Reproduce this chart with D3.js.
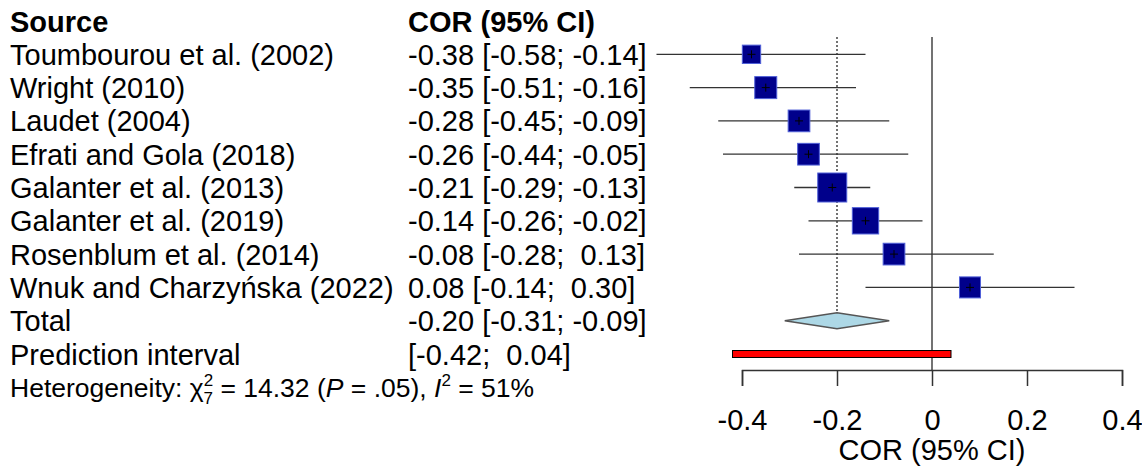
<!DOCTYPE html>
<html>
<head>
<meta charset="utf-8" />
<script src="https://cdn.jsdelivr.net/npm/d3@7"></script>
<style>
	body { margin: 0; background: #fff; }
	text { font-family: "Liberation Sans", Arial, sans-serif; fill: #000; white-space: pre; }
</style>
</head>
<body>
<div id="chart"></div>
<script>

	// study data
	var studies = ["Toumbourou et al. (2002)", "Wright (2010)", "Laudet (2004)", "Efrati and Gola (2018)",
		"Galanter et al. (2013)", "Galanter et al. (2019)", "Rosenblum et al. (2014)", "Wnuk and Charzyńska (2022)"];
	var cor = [-0.38, -0.35, -0.28, -0.26, -0.21, -0.14, -0.08, 0.08];
	var lower = [-0.58, -0.51, -0.45, -0.44, -0.29, -0.26, -0.28, -0.14];
	var upper = [-0.14, -0.16, -0.09, -0.05, -0.13, -0.02, 0.13, 0.30];
	var weights = [8.0, 11.5, 11.2, 11.2, 20.0, 16.5, 11.2, 10.5];

	// pooled estimate and prediction interval
	var total = [-0.20, -0.31, -0.09];
	var prediction = [-0.42, 0.04];
	var xTicks = [-0.4, -0.2, 0, 0.2, 0.4];

	var width = 1142, height = 469;
	var fs = 29;

	var svg = d3.select("#chart").append("svg")
		.attr("width", width)
		.attr("height", height);

	var x = d3.scaleLinear().domain([-0.4, 0.4]).range([742, 1122]);
	// rows : 0 = header, 1..8 studies, 9 total, 10 prediction, 11 heterogeneity
	var y = d3.scaleLinear().domain([0, 11]).range([21, 387.3]);
	var size = d3.scaleSqrt().domain([0, 20]).range([0, 29]);

	function f(v) { return v.toFixed(2); }
	function ci(l, u) { return "[" + f(l) + "; " + (u >= 0 ? " " : "") + f(u) + "]"; }

	var base = 10.5;

	// headers
	svg.append("text").attr("x", 10).attr("y", y(0) + base).style("font-size", fs + "px")
		.style("font-weight", "bold").text("Source");
	svg.append("text").attr("x", 408).attr("y", y(0) + base).style("font-size", fs + "px")
		.style("font-weight", "bold").text("COR (95% CI)");

	var rows = studies.map(function (s, i) {
		return { name: s, cor: cor[i], lo: lower[i], hi: upper[i], w: weights[i], row: i + 1 };
	});

	// left text columns
	svg.selectAll(".lab").data(rows).enter().append("text")
		.attr("x", 10).attr("y", function (d) { return y(d.row) + base; })
		.style("font-size", fs + "px")
		.text(function (d) { return d.name; });

	svg.selectAll(".val").data(rows).enter().append("text")
		.attr("x", 408).attr("y", function (d) { return y(d.row) + base; })
		.style("font-size", fs + "px")
		.text(function (d) { return f(d.cor) + " " + ci(d.lo, d.hi); });

	svg.append("text").attr("x", 10).attr("y", y(9) + base).style("font-size", fs + "px").text("Total");
	svg.append("text").attr("x", 408).attr("y", y(9) + base).style("font-size", fs + "px")
		.text(f(total[0]) + " " + ci(total[1], total[2]));
	svg.append("text").attr("x", 10).attr("y", y(10) + base).style("font-size", fs + "px").text("Prediction interval");
	svg.append("text").attr("x", 408).attr("y", y(10) + base).style("font-size", fs + "px")
		.text(ci(prediction[0], prediction[1]));

	// heterogeneity line
	var het = svg.append("text").attr("x", 10).attr("y", y(11) + 9.5).style("font-size", "26.5px");
	het.append("tspan").text("Heterogeneity: χ");
	het.append("tspan").attr("dy", -11).style("font-size", "17px").text("2");
	het.append("tspan").attr("dx", -9.5).attr("dy", 18).style("font-size", "17px").text("7");
	het.append("tspan").attr("dy", -7).text(" = 14.32 (");
	het.append("tspan").style("font-style", "italic").text("P");
	het.append("tspan").text(" = .05), ");
	het.append("tspan").style("font-style", "italic").text("I");
	het.append("tspan").attr("dy", -11).style("font-size", "17px").text("2");
	het.append("tspan").attr("dy", 11).text(" = 51%");

	// reference lines
	svg.append("line")
		.attr("x1", x(0)).attr("x2", x(0)).attr("y1", 37).attr("y2", 370)
		.attr("stroke", "#444").attr("stroke-width", 1.5);
	svg.append("line")
		.attr("x1", x(total[0])).attr("x2", x(total[0])).attr("y1", 37).attr("y2", y(9) - 8)
		.attr("stroke", "#444").attr("stroke-width", 1.5).attr("stroke-dasharray", "2,2");

	// confidence intervals
	svg.selectAll(".ci").data(rows).enter().append("line")
		.attr("x1", function (d) { return x(d.lo); })
		.attr("x2", function (d) { return x(d.hi); })
		.attr("y1", function (d) { return y(d.row); })
		.attr("y2", function (d) { return y(d.row); })
		.attr("stroke", "#333").attr("stroke-width", 1.3);

	// weight squares
	svg.selectAll(".sq").data(rows).enter().append("rect")
		.attr("x", function (d) { return x(d.cor) - size(d.w) / 2; })
		.attr("y", function (d) { return y(d.row) - size(d.w) / 2; })
		.attr("width", function (d) { return size(d.w); })
		.attr("height", function (d) { return size(d.w); })
		.attr("fill", "#00008B")
		.attr("stroke", "#5060d8").attr("stroke-width", 1);

	// small crosses inside squares
	svg.selectAll(".cross").data(rows).enter().append("path")
		.attr("d", function (d) {
			var cx = x(d.cor), cy = y(d.row);
			return "M" + (cx - 4) + "," + cy + "H" + (cx + 4) + "M" + cx + "," + (cy - 4) + "V" + (cy + 4);
		})
		.attr("stroke", "#000").attr("stroke-width", 1);

	// pooled diamond
	var ty = y(9);
	svg.append("path")
		.attr("d", "M" + x(total[1]) + "," + ty + "L" + x(total[0]) + "," + (ty - 8) +
			"L" + x(total[2]) + "," + ty + "L" + x(total[0]) + "," + (ty + 8) + "Z")
		.attr("fill", "#ADD8E6").attr("stroke", "#555").attr("stroke-width", 1.5);

	// prediction interval
	svg.append("rect")
		.attr("x", x(prediction[0])).attr("y", y(10) - 3.5)
		.attr("width", x(prediction[1]) - x(prediction[0])).attr("height", 7)
		.attr("fill", "#FF0000").attr("stroke", "#000").attr("stroke-width", 1);

	// x axis
	var xAxis = d3.axisBottom(x)
		.tickValues(xTicks)
		.tickSize(16)
		.tickSizeOuter(16)
		.tickPadding(23)
		.tickFormat(function (d) { return d === 0 ? "0" : d.toFixed(1); });

	var gx = svg.append("g")
		.attr("transform", "translate(0,370)")
		.call(xAxis);
	gx.selectAll("path, line").attr("stroke", "#333").attr("stroke-width", 1.5);
	gx.selectAll("text")
		.style("font-size", fs + "px")
		.style("font-family", "'Liberation Sans', Arial, sans-serif")
		.attr("fill", "#000");

	svg.append("text")
		.attr("x", x(0))
		.attr("y", 460)
		.style("font-size", fs + "px")
		.style("text-anchor", "middle")
		.text("COR (95% CI)");

</script>
</body>
</html>
